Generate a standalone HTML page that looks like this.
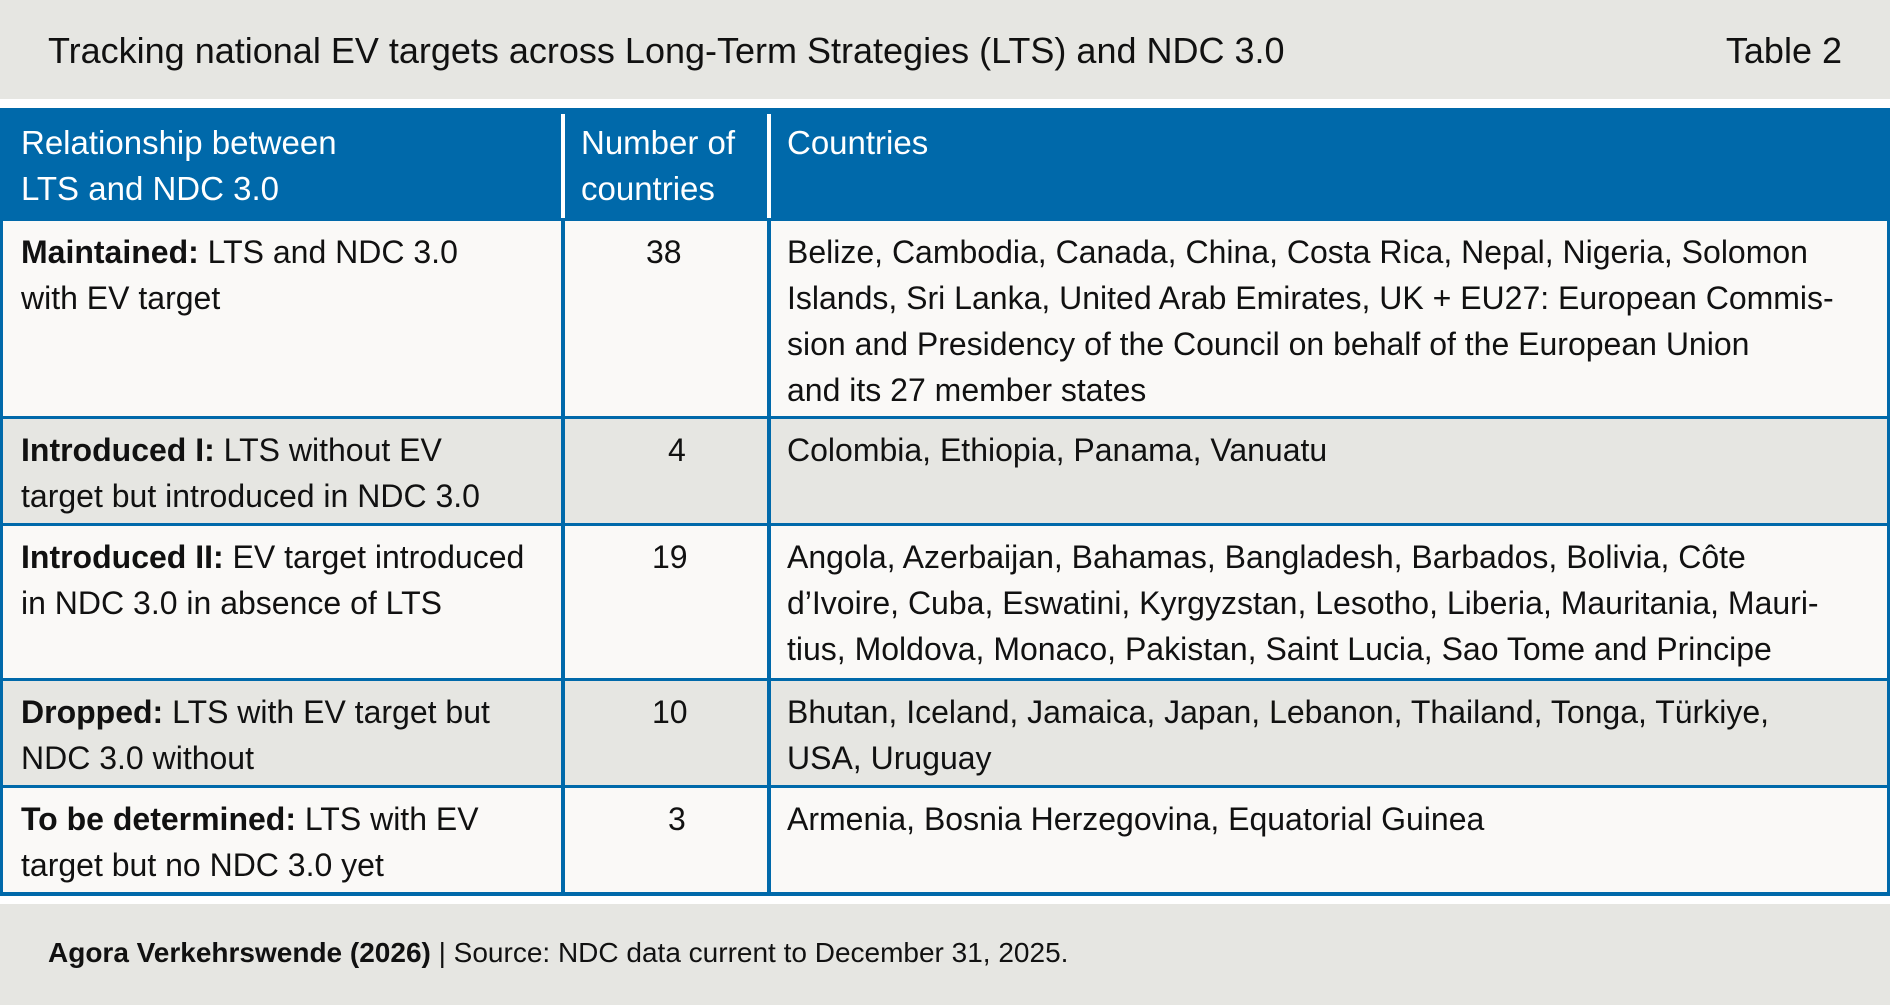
<!DOCTYPE html>
<html><head><meta charset="utf-8"><style>
*{margin:0;padding:0;box-sizing:border-box}
body{width:1890px;height:1005px;background:#fff;font-family:"Liberation Sans",sans-serif;color:#111;position:relative;overflow:hidden}
.band{position:absolute;left:0;width:1890px;background:#e6e6e2}
.t{position:absolute;white-space:nowrap}
.hdr{position:absolute;left:0;top:108px;width:1890px;height:111px;background:#0069aa}
.row{position:absolute;left:0;width:1890px;border-left:3px solid #0069aa;border-right:3px solid #0069aa;border-top:3px solid #0069aa}
.vl{position:absolute;width:4px;background:#0069aa}
.vw{position:absolute;width:4px;background:#fff}
.cell{position:absolute;font-size:32px;line-height:46px;white-space:nowrap}
.h{color:#fff;font-size:33px;line-height:46px}
b{font-weight:bold}
</style></head><body>
<div class="band" style="top:0;height:99px"></div>
<div class="t" style="left:48px;top:30px;font-size:36px">Tracking national EV targets across Long-Term Strategies (LTS) and NDC 3.0</div>
<div class="t" style="right:48px;top:30px;font-size:36px">Table 2</div>

<div class="hdr"></div>
<div class="vw" style="left:561px;top:114px;height:105px"></div>
<div class="vw" style="left:767px;top:114px;height:105px"></div>
<div class="cell h" style="left:21px;top:120px">Relationship between<br>LTS and NDC 3.0</div>
<div class="cell h" style="left:581px;top:120px">Number of<br>countries</div>
<div class="cell h" style="left:787px;top:120px">Countries</div>

<div class="row" style="top:218px;height:200px;background:#faf9f7"></div>
<div class="row" style="top:416px;height:109px;background:#e6e6e2"></div>
<div class="row" style="top:523px;height:157px;background:#faf9f7"></div>
<div class="row" style="top:678px;height:109px;background:#e6e6e2"></div>
<div class="row" style="top:785px;height:111px;background:#faf9f7;border-bottom:4px solid #0069aa"></div>
<div class="vl" style="left:561px;top:219px;height:677px"></div>
<div class="vl" style="left:767px;top:219px;height:677px"></div>

<div class="cell" style="left:21px;top:229px"><b>Maintained:</b> LTS and NDC 3.0<br>with EV target</div>
<div class="cell" style="left:646px;top:229px">38</div>
<div class="cell" style="left:787px;top:229px">Belize, Cambodia, Canada, China, Costa Rica, Nepal, Nigeria, Solomon<br>Islands, Sri Lanka, United Arab Emirates, UK + EU27: European Commis-<br>sion and Presidency of the Council on behalf of the European Union<br>and its 27 member states</div>

<div class="cell" style="left:21px;top:427px"><b>Introduced I:</b> LTS without EV<br>target but introduced in NDC 3.0</div>
<div class="cell" style="left:668px;top:427px">4</div>
<div class="cell" style="left:787px;top:427px">Colombia, Ethiopia, Panama, Vanuatu</div>

<div class="cell" style="left:21px;top:534px"><b>Introduced II:</b> EV target introduced<br>in NDC 3.0 in absence of LTS</div>
<div class="cell" style="left:652px;top:534px">19</div>
<div class="cell" style="left:787px;top:534px">Angola, Azerbaijan, Bahamas, Bangladesh, Barbados, Bolivia, Côte<br>d’Ivoire, Cuba, Eswatini, Kyrgyzstan, Lesotho, Liberia, Mauritania, Mauri-<br>tius, Moldova, Monaco, Pakistan, Saint Lucia, Sao Tome and Principe</div>

<div class="cell" style="left:21px;top:689px"><b>Dropped:</b> LTS with EV target but<br>NDC 3.0 without</div>
<div class="cell" style="left:652px;top:689px">10</div>
<div class="cell" style="left:787px;top:689px">Bhutan, Iceland, Jamaica, Japan, Lebanon, Thailand, Tonga, Türkiye,<br>USA, Uruguay</div>

<div class="cell" style="left:21px;top:796px"><b>To be determined:</b> LTS with EV<br>target but no NDC 3.0 yet</div>
<div class="cell" style="left:668px;top:796px">3</div>
<div class="cell" style="left:787px;top:796px">Armenia, Bosnia Herzegovina, Equatorial Guinea</div>

<div class="band" style="top:904px;height:101px"></div>
<div class="t" style="left:48px;top:937px;font-size:28px"><b style="font-weight:bold">Agora Verkehrswende (2026)</b> | Source: NDC data current to December 31, 2025.</div>
</body></html>
